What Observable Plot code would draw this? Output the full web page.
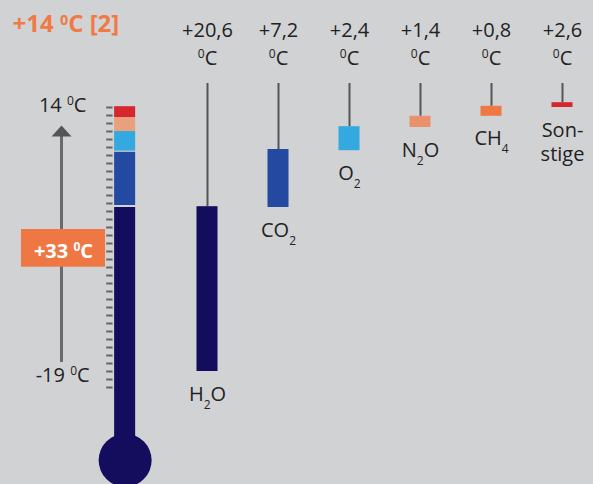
<!DOCTYPE html>
<html><head><meta charset="utf-8">
<script src="https://cdn.jsdelivr.net/npm/d3@7"></script>
<script src="https://cdn.jsdelivr.net/npm/@observablehq/plot@0.6"></script>
<style>
html,body{margin:0;padding:0;background:#d1d2d4;}
#chart{width:593px;height:484px;overflow:hidden;}
</style></head><body><div id="chart"></div>
<script>
// ---- data ----
const title = "+14 ⁰C [2]";
const gases = ["H₂O", "CO₂", "O₂", "N₂O", "CH₄", "Son-\nstige"];
const contributions = ["+20,6", "+7,2", "+2,4", "+1,4", "+0,8", "+2,6"];
const unitLabel = "⁰C";
const barBottom = [-19, 1.5, 8.6, 11.5, 12.9, 14.0];   // °C, as drawn
const barTop    = [1.6, 8.75, 11.6, 12.9, 14.15, 14.6]; // °C, as drawn
const gasColors = ["#140c5c", "#2349a0", "#33a9e0", "#e8916a", "#ef7944", "#d6262e"];
const thermoBottom = [-30, 1.75, 8.55, 11.0, 12.75];
const thermoTop    = [1.5, 8.4, 11.0, 12.75, 14.1];
const thermoColors = ["#140c5c", "#2349a0", "#33a9e0", "#e8a07d", "#d6262e"];
const scaleTop = 14, scaleBottom = -19;
const scaleTopLabel = "14 ⁰C", scaleBottomLabel = "-19 ⁰C";
const totalLabel = "+33 ⁰C";
const tickValues = d3.range(-21, 15);

// ---- layout (column units: gas i sits at column i+1) ----
const BAR_HALF = 0.148, THERMO_COL = -0.16, ARROW_COL = -1.056, LABEL_COL = -1.04;
const LINE_TOP = 17, BULB_Y = -30.1;
const BOX = {x1: -1.62, x2: -0.437, y1: -1.25, y2: -5.96};
const TXT = "#222";

const gasData = gases.map((g, i) => ({label: g, value: contributions[i], lo: barBottom[i], hi: barTop[i], color: gasColors[i], col: i + 1}));
const thermo = thermoBottom.map((lo, i) => ({lo, hi: thermoTop[i], color: thermoColors[i]}));

const plot = Plot.plot({
  width: 593, height: 484, margin: 0,
  x: {domain: [0, 1], range: [136, 207], axis: null},
  y: {domain: [scaleBottom, scaleTop], range: [371, 107], axis: null},
  color: {type: "identity"},
  style: {background: "transparent", fontFamily: "'Open Sans', sans-serif", color: TXT},
  marks: [
    // thermometer scale ticks
    Plot.ruleY(tickValues, {x1: THERMO_COL - 0.26, x2: THERMO_COL - 0.17, stroke: "#666", strokeWidth: 2}),
    // thermometer segments + bulb
    Plot.rect(thermo, {x1: THERMO_COL - BAR_HALF, x2: THERMO_COL + BAR_HALF, y1: "lo", y2: "hi", fill: "color"}),
    Plot.dot([BULB_Y], {x: THERMO_COL, y: d => d, r: 26.5, fill: thermoColors[0]}),
    // arrow
    Plot.ruleX([ARROW_COL], {y1: scaleTop, y2: scaleBottom, insetTop: 29, insetBottom: 9, stroke: "#6a6a6a", strokeWidth: 3}),
    Plot.dot([scaleTop], {x: ARROW_COL, y: d => d, dy: 29, fill: "#555",
      symbol: {draw(ctx) { ctx.moveTo(-10, 0); ctx.lineTo(10, 0); ctx.lineTo(0, -11); ctx.closePath(); }}}),
    Plot.text([scaleTopLabel], {x: LABEL_COL, y: scaleTop, lineAnchor: "top", dy: -10, fontSize: 20, fill: TXT}),
    Plot.text([scaleBottomLabel], {x: LABEL_COL, y: scaleBottom, lineAnchor: "top", dy: -4, fontSize: 20, fill: TXT}),
    // total box
    Plot.rect([0], {x1: BOX.x1, x2: BOX.x2, y1: BOX.y1, y2: BOX.y2, fill: "#ee7744"}),
    Plot.text([totalLabel], {x: (BOX.x1 + BOX.x2) / 2, y: (BOX.y1 + BOX.y2) / 2, lineAnchor: "top", dy: -4.5, fontSize: 20, fontWeight: "bold", fill: "white"}),
    // gas bars with connectors
    Plot.ruleX(gasData, {x: "col", y1: LINE_TOP, y2: "hi", stroke: "#555", strokeWidth: 2}),
    Plot.rect(gasData, {x1: d => d.col - BAR_HALF, x2: d => d.col + BAR_HALF, y1: "lo", y2: "hi", fill: "color"}),
    Plot.text(gasData, {x: "col", text: "value", frameAnchor: "top", lineAnchor: "top", dy: 22, fontSize: 20, fill: TXT}),
    Plot.text(gasData, {x: "col", text: () => unitLabel, frameAnchor: "top", lineAnchor: "top", dy: 50, fontSize: 20, fill: TXT}),
    Plot.text(gasData, {x: "col", y: "lo", text: "label", lineAnchor: "top", dy: 12, lineHeight: 1.2, fontSize: 20, fill: TXT}),
    // title
    Plot.text([title], {frameAnchor: "top-left", textAnchor: "start", lineAnchor: "top", dx: 12, dy: 14, fontSize: 24, fontWeight: "bold", fill: "#ef7a45"})
  ]
});

function applyScripts(root) {
  const SUB = {"₂": "2", "₄": "4"}, SUP = {"⁰": "0"};
  root.querySelectorAll("text, tspan").forEach(el => {
    if (el.childNodes.length !== 1 || el.firstChild.nodeType !== 3) return;
    const s = el.textContent;
    if (![...s].some(c => SUB[c] || SUP[c])) return;
    el.textContent = "";
    const runs = [];
    for (const c of s) {
      const kind = SUB[c] ? "sub" : SUP[c] ? "sup" : "n";
      const ch = SUB[c] || SUP[c] || c;
      if (runs.length && runs[runs.length - 1].kind === kind) runs[runs.length - 1].t += ch;
      else runs.push({kind, t: ch});
    }
    for (const r of runs) {
      const t = document.createElementNS("http://www.w3.org/2000/svg", "tspan");
      if (r.kind === "sub") t.setAttribute("baseline-shift", "-8");
      if (r.kind === "sup") t.setAttribute("baseline-shift", "7");
      if (r.kind !== "n") t.style.fontSize = "0.6em";
      t.textContent = r.t;
      el.appendChild(t);
    }
  });
}
applyScripts(plot);
document.getElementById("chart").appendChild(plot);
</script>
</body></html>
